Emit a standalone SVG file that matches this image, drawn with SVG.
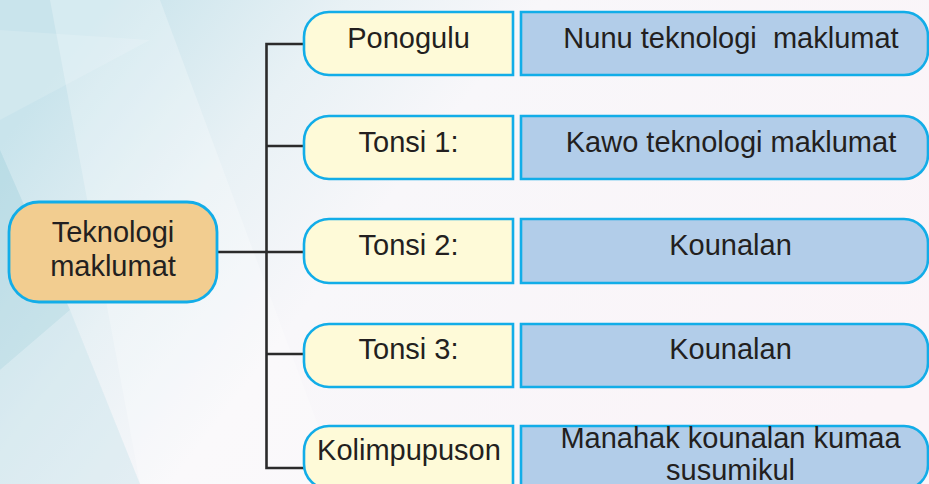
<svg xmlns="http://www.w3.org/2000/svg" width="929" height="484" viewBox="0 0 929 484">
<defs>
<linearGradient id="bg" x1="0" y1="0.3" x2="1" y2="0.7">
<stop offset="0" stop-color="#c9e4ec"/>
<stop offset="0.22" stop-color="#e8f1f5"/>
<stop offset="0.4" stop-color="#f8f7fa"/>
<stop offset="1" stop-color="#fbf4f8"/>
</linearGradient>
<style>
.lbl{font-family:"Liberation Sans",Arial,sans-serif;font-size:29px;fill:#231f20;text-anchor:middle}
.y{fill:#fefad8;stroke:#12ade8;stroke-width:2.6}
.b{fill:#b2cde9;stroke:#12ade8;stroke-width:2.6}
.c{fill:#f2cd90;stroke:#12ade8;stroke-width:2.8}
.ln{fill:none;stroke:#2b2b2b;stroke-width:2.6}
</style>
</defs>
<rect x="0" y="0" width="929" height="484" fill="url(#bg)"/>
<polygon points="50,0 160,0 340,484 140,484" fill="#ffffff" opacity="0.25"/>
<polygon points="0,150 70,310 0,370" fill="#a6d3de" opacity="0.45"/>
<polygon points="0,370 70,310 140,484 0,484" fill="#bfe0e9" opacity="0.35"/>
<polygon points="0,30 150,40 0,120" fill="#ffffff" opacity="0.15"/>

<g id="connectors">
<path class="ln" d="M305 44 H266.5 V468 H305"/>
<path class="ln" d="M217 252 H305"/>
<path class="ln" d="M266.5 146 H305"/>
<path class="ln" d="M266.5 354 H305"/>
</g>

<g id="center">
<rect class="c" x="9" y="202" width="208" height="100" rx="30"/>
<text class="lbl" x="113" y="242">Teknologi</text>
<text class="lbl" x="113" y="276">maklumat</text>
</g>

<g id="ponogulu">
<path class="y" d="M513 12 H329 A25 25 0 0 0 304 37 V50 A25 25 0 0 0 329 75 H513 Z"/>
<text class="lbl" x="408.5" y="48">Ponogulu</text>
</g>
<g id="nunu">
<path class="b" d="M521 12 H904 A24 24 0 0 1 928 36 V51 A24 24 0 0 1 904 75 H521 Z"/>
<text class="lbl" x="731" y="48" xml:space="preserve" style="white-space:pre">Nunu teknologi  maklumat</text>
</g>

<g id="tonsi1">
<path class="y" d="M513 116 H329 A25 25 0 0 0 304 141 V154 A25 25 0 0 0 329 179 H513 Z"/>
<text class="lbl" x="408.5" y="152">Tonsi 1:</text>
</g>
<g id="kawo">
<path class="b" d="M521 116 H904 A24 24 0 0 1 928 140 V155 A24 24 0 0 1 904 179 H521 Z"/>
<text class="lbl" x="731" y="152">Kawo teknologi maklumat</text>
</g>

<g id="tonsi2">
<path class="y" d="M513 219 H329 A25 25 0 0 0 304 244 V258 A25 25 0 0 0 329 283 H513 Z"/>
<text class="lbl" x="408.5" y="255">Tonsi 2:</text>
</g>
<g id="kounalan2">
<path class="b" d="M521 219 H904 A24 24 0 0 1 928 243 V259 A24 24 0 0 1 904 283 H521 Z"/>
<text class="lbl" x="730.5" y="255">Kounalan</text>
</g>

<g id="tonsi3">
<path class="y" d="M513 324 H329 A25 25 0 0 0 304 349 V362 A25 25 0 0 0 329 387 H513 Z"/>
<text class="lbl" x="408.5" y="359">Tonsi 3:</text>
</g>
<g id="kounalan3">
<path class="b" d="M521 324 H904 A24 24 0 0 1 928 348 V363 A24 24 0 0 1 904 387 H521 Z"/>
<text class="lbl" x="730.5" y="359">Kounalan</text>
</g>

<g id="kolimpupuson">
<path class="y" d="M513 426 H329 A25 25 0 0 0 304 451 V464 A25 25 0 0 0 329 489 H513 Z"/>
<text class="lbl" x="409" y="460">Kolimpupuson</text>
</g>
<g id="manahak">
<path class="b" d="M521 426 H904 A24 24 0 0 1 928 450 V465 A24 24 0 0 1 904 489 H521 Z"/>
<text class="lbl" x="730.5" y="448">Manahak kounalan kumaa</text>
<text class="lbl" x="730.5" y="480">susumikul</text>
</g>
</svg>
